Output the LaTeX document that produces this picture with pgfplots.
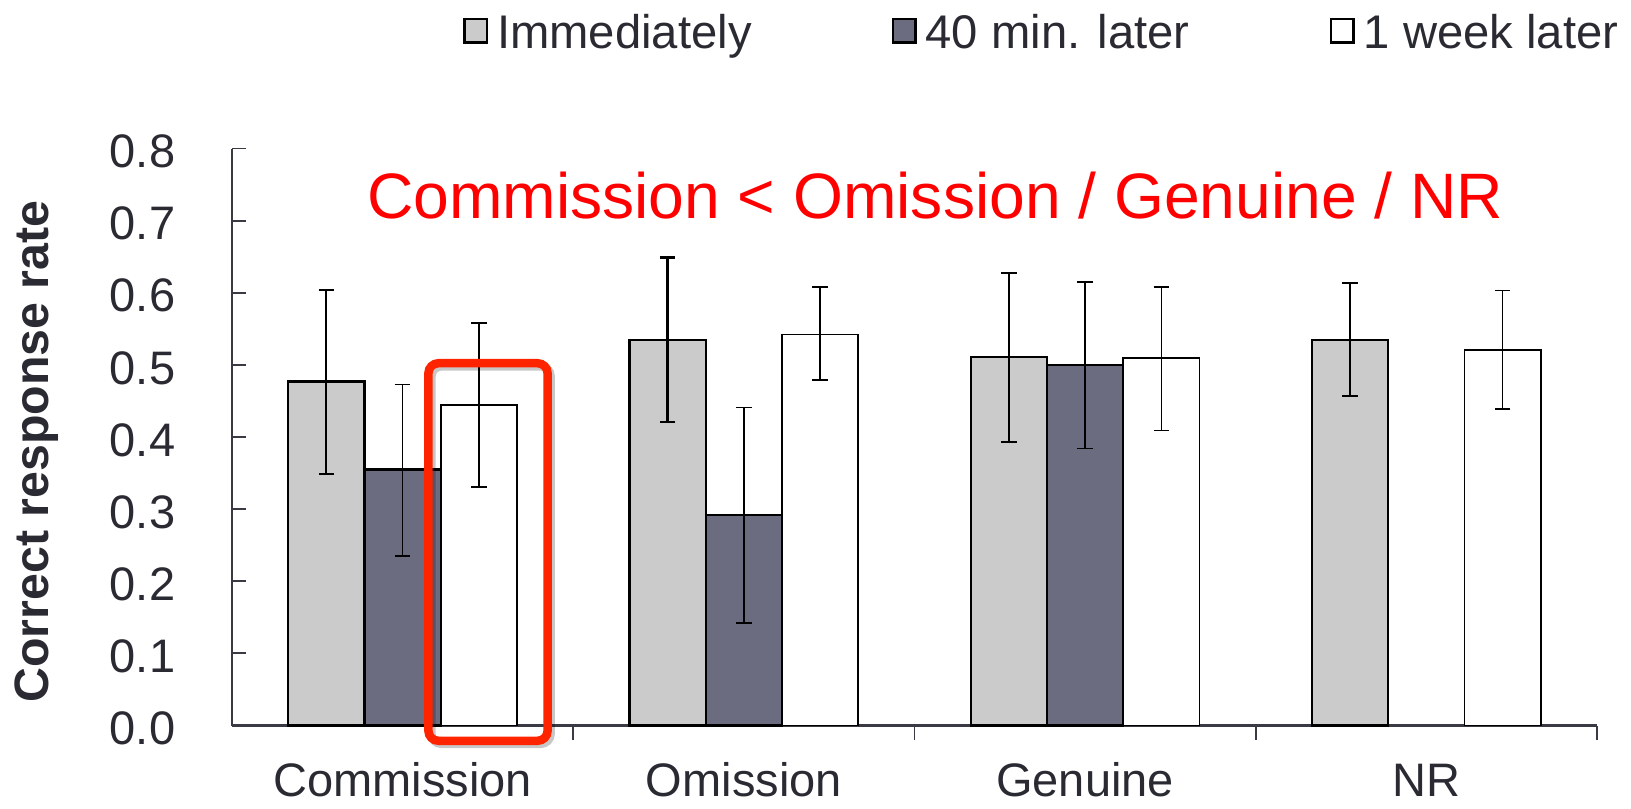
\documentclass[border=0pt]{standalone}
\usepackage{fontspec}
\setmainfont{Liberation Sans}
\usepackage{pgfplots}
\pgfplotsset{compat=1.18}
\usepackage{pgfplotstable}
\definecolor{lgray}{HTML}{CBCBCB}
\definecolor{slate}{HTML}{6B6C80}
\definecolor{axiscol}{HTML}{3A3A44}
\definecolor{txtcol}{HTML}{2A2A33}
\definecolor{boxred}{HTML}{FF2400}

\pgfplotstableread{
x y ep em
0 0.477 0.127 0.128
1 0.535 0.114 0.114
2 0.511 0.116 0.118
3 0.534 0.079 0.077
}\imm
\pgfplotstableread{
x y ep em
0 0.355 0.118 0.120
1 0.292 0.149 0.150
2 0.500 0.115 0.116
}\forty
\pgfplotstableread{
x y ep em
0 0.444 0.114 0.113
1 0.542 0.066 0.063
2 0.509 0.099 0.100
3 0.521 0.082 0.082
}\week

\begin{document}
\begin{tikzpicture}
\useasboundingbox (-116pt,-41.25pt) rectangle (699.5pt,362.75pt);
\begin{axis}[
  scale only axis, width=682.5pt, height=288.5pt,
  xmin=-0.5, xmax=3.5, ymin=0, ymax=0.8,
  clip=false,
  axis lines=left, axis line style={-},
  x axis line style={line width=1.3pt, draw=axiscol},
  y axis line style={line width=0.9pt, draw=axiscol},
  tick align=inside, major tick length=7pt,
  tick style={draw=axiscol, line width=0.9pt},
  xtick={0.5,1.5,2.5,3.5}, xticklabels={,,,},
  extra x ticks={0,1,2,3},
  extra x tick labels={Commission,Omission,Genuine,NR},
  extra x tick style={major tick length=0pt},
  xticklabel style={anchor=base, inner sep=0pt, yshift=-35.5pt},
  ytick={0,0.1,0.2,0.3,0.4,0.5,0.6,0.7,0.8},
  /pgf/number format/assume math mode=true,
  yticklabel style={/pgf/number format/.cd, fixed, fixed zerofill, precision=1, /tikz/.cd, anchor=east, inner sep=0pt, xshift=-28.2pt, yshift=-1.5pt},
  tick label style={font=\fontsize{23.5}{28}\selectfont, color=txtcol},
  ylabel={Correct response rate},
  ylabel style={font=\fontsize{24.15}{28}\selectfont\bfseries, color=txtcol, at={(axis description cs:-0.1344,0.4749)}, anchor=base},
  ybar=0pt, bar width=0.2236,
  legend columns=3,
  legend style={at={(axis description cs:0.1691,1.2273)}, anchor=north west, draw=none, fill=none, inner sep=0pt,
    font=\fontsize{23.6}{28}\selectfont, text=txtcol,
    nodes={inner sep=0pt, text height=0.8em, text depth=0.25em},
    /tikz/every odd column/.append style={column sep=4.5pt},
    /tikz/every even column/.append style={column sep=70pt}},
  legend image code/.code={\draw[#1, line width=1.3pt] (0pt,0.4pt) rectangle (11.2pt,12.2pt);},
]
\addplot[fill=lgray, draw=black, line width=1.1pt,
  error bars/.cd, y dir=both, y explicit, error mark=|,
  error bar style={line width=1.1pt, black},
  error mark options={mark size=3.9pt, line width=1.1pt, black}]
  table[x=x, y=y, y error plus=ep, y error minus=em] {\imm};
\addplot[fill=slate, draw=black, line width=1.1pt,
  error bars/.cd, y dir=both, y explicit, error mark=|,
  error bar style={line width=0.75pt, black},
  error mark options={mark size=3.9pt, line width=0.75pt, black}]
  table[x=x, y=y, y error plus=ep, y error minus=em] {\forty};
\addplot[fill=white, draw=black, line width=0.9pt,
  error bars/.cd, y dir=both, y explicit, error mark=|,
  error bar style={line width=0.75pt, black},
  error mark options={mark size=3.9pt, line width=0.75pt, black}]
  table[x=x, y=y, y error plus=ep, y error minus=em] {\week};
\legend{Immediately, 40 min. later, 1 week later}
\draw[black, opacity=0.22, line width=4.25pt, rounded corners=5pt] (axis cs:0.0844,0.4981) rectangle (axis cs:0.4336,-0.0254);
\draw[boxred, line width=4.25pt, rounded corners=5pt] (axis cs:0.0756,0.5023) rectangle (axis cs:0.4248,-0.0212);
\node[anchor=base west, inner sep=0pt, text=red, font=\fontsize{32.1}{36}\selectfont] at (axis cs:-0.1055,0.7032) {Commission < Omission / Genuine / NR};
\end{axis}
\end{tikzpicture}
\end{document}
